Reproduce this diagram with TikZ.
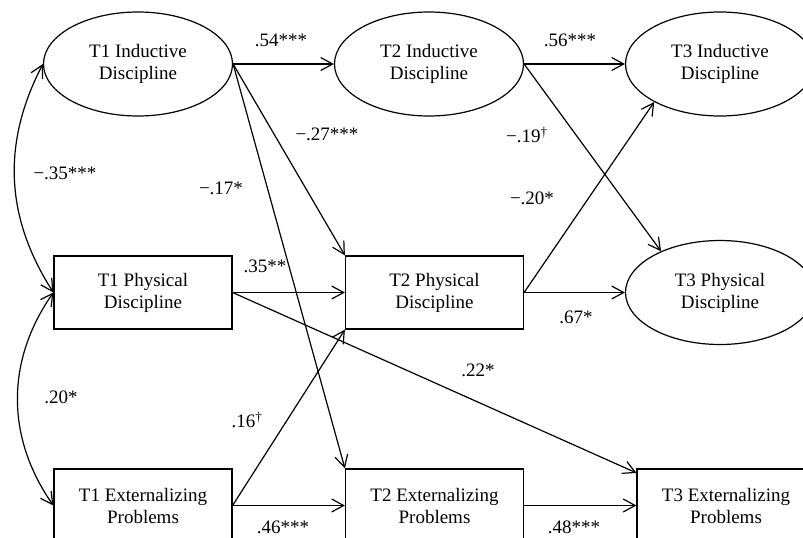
\documentclass[tikz,border=0pt]{standalone}
\usepackage{fontspec}
\setmainfont{Liberation Serif}
\usepackage{tikz}
\usetikzlibrary{arrows.meta,shapes.geometric,calc}

\tikzset{
  latent/.style={ellipse, draw, line width=1.2pt, minimum width=189pt, minimum height=104pt, inner sep=0pt, align=center},
  observed/.style={rectangle, draw, line width=1.2pt, minimum width=178pt, minimum height=73pt, align=center},
  effect/.style={-{Straight Barb[length=12pt,width=13pt]}, line width=1.2pt},
  covar/.style={{Straight Barb[length=12pt,width=13pt]}-{Straight Barb[length=12pt,width=13pt]}, line width=1.2pt},
  coef/.style={inner sep=0pt}
}

\begin{document}
\begin{tikzpicture}[x=1pt, y=-1pt, font=\fontsize{19}{22}\selectfont]
    \useasboundingbox (0,0) rectangle (803,538);
    \clip (0,0) rectangle (803,538);

    % wave 1
    \node[latent] (t1ind) at (138,64) {T1 Inductive\\Discipline};
    \node[observed] (t1phys) at (143,292.5) {T1 Physical\\Discipline};
    \node[observed] (t1ext) at (143,505.5) {T1 Externalizing\\Problems};

    % wave 2
    \node[latent] (t2ind) at (429,64) {T2 Inductive\\Discipline};
    \node[observed] (t2phys) at (434.5,292.5) {T2 Physical\\Discipline};
    \node[observed] (t2ext) at (434.5,505.5) {T2 Externalizing\\Problems};

    % wave 3
    \node[latent] (t3ind) at (720,64) {T3 Inductive\\Discipline};
    \node[latent] (t3phys) at (720,292.5) {T3 Physical\\Discipline};
    \node[observed] (t3ext) at (726,505.5) {T3 Externalizing\\Problems};

    % covariances
    \draw[covar] (t1ind.west) to[bend right=30] (t1phys.west);
    \draw[covar] (t1phys.west) to[bend right=35] (t1ext.west);

    % paths
    \draw[effect] (t1ind.east) -- (t2ind.west);
    \draw[effect] (t2ind.east) -- (t3ind.west);
    \draw[effect] (t1ind.east) -- (t2phys.north west);
    \draw[effect] (t1ind.east) -- (t2ext.north west);
    \draw[effect] (t2ind.east) -- (t3phys.145);
    \draw[effect] (t2phys.east) -- (t3ind.210);
    \draw[effect] (t2phys.east) -- (t3phys.west);
    \draw[effect] (t1phys.east) -- (t2phys.west);
    \draw[effect] (t1phys.east) -- (t3ext.160);
    \draw[effect] (t1ext.east) -- (t2phys.south west);
    \draw[effect] (t1ext.east) -- (t2ext.west);
    \draw[effect] (t2ext.east) -- (t3ext.west);

    % coefficients
    \node[coef] (c54) at (281,40) {.54***};
    \node[coef] (c56) at (570,40) {.56***};
    \node[coef] (c27) at (327,134) {−.27***};
    \node[coef] (c17) at (221,188) {−.17*};
    \node[coef] (c19) at (527,135) {−.19\textsuperscript{†}};
    \node[coef] (c20) at (532,198) {−.20*};
    \node[coef] (c35) at (65,173) {−.35***};
    \node[coef] (c35b) at (265,266) {.35**};
    \node[coef] (c67) at (576,317) {.67*};
    \node[coef] (c22) at (478,370) {.22*};
    \node[coef] (c20b) at (61,397) {.20*};
    \node[coef] (c16) at (247,420) {.16\textsuperscript{†}};
    \node[coef] (c46) at (283,527) {.46***};
    \node[coef] (c48) at (574,527) {.48***};
\end{tikzpicture}
\end{document}
